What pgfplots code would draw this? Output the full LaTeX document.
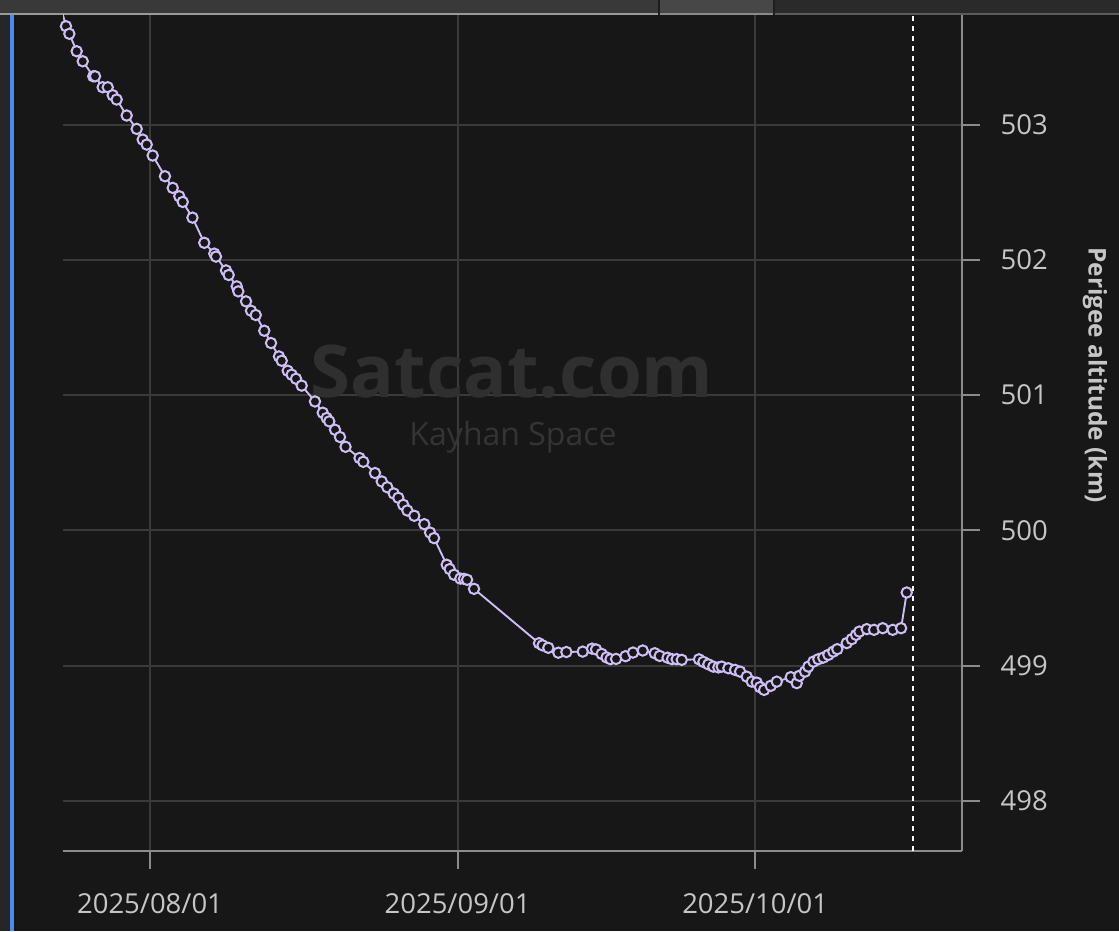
\documentclass[border=0pt]{standalone}
\usepackage{pgfplots}
\pgfplotsset{compat=1.18}
\usepackage{fontspec}
\setmainfont{Open Sans}
\definecolor{bg}{HTML}{171717}
\definecolor{gridc}{HTML}{3A3A3A}
\definecolor{axisc}{HTML}{8C8C8C}
\definecolor{labc}{HTML}{C6C6C6}
\definecolor{lav}{HTML}{CDBFF4}
\definecolor{wm}{HTML}{2F2F2F}
\definecolor{wm2}{HTML}{343434}
\definecolor{barA}{HTML}{393939}
\definecolor{barB}{HTML}{474747}
\definecolor{barC}{HTML}{2A2A2A}
\definecolor{lineA}{HTML}{9A9A9A}
\definecolor{lineB}{HTML}{8A8A8A}
\definecolor{lineC}{HTML}{5A5A5A}
\definecolor{gapc}{HTML}{1E1E1E}
\definecolor{strip}{HTML}{262626}
\definecolor{bluel}{HTML}{4A8AF0}

\pgfplotstableread{
d km
-8.87 503.836
-8.47 503.727
-8.13 503.671
-7.39 503.542
-6.78 503.468
-5.72 503.357
-5.54 503.357
-4.77 503.276
-4.26 503.276
-3.76 503.217
-3.36 503.185
-2.35 503.067
-1.34 502.968
-0.74 502.889
-0.33 502.852
0.27 502.771
1.51 502.618
2.29 502.532
2.95 502.470
3.30 502.428
4.28 502.312
5.47 502.126
6.48 502.046
6.65 502.024
7.66 501.922
7.93 501.888
8.74 501.804
8.90 501.767
9.68 501.693
10.18 501.624
10.66 501.592
11.52 501.476
12.20 501.385
13.00 501.286
13.28 501.254
13.88 501.180
14.28 501.151
14.72 501.121
15.29 501.070
16.63 500.953
17.41 500.870
17.81 500.831
18.07 500.806
18.65 500.744
19.15 500.690
19.71 500.618
21.12 500.535
21.50 500.507
22.68 500.424
23.36 500.362
23.92 500.319
24.57 500.273
25.03 500.241
25.53 500.189
25.94 500.147
26.64 500.108
27.65 500.046
28.23 499.984
28.63 499.943
29.91 499.746
30.21 499.714
30.65 499.672
31.28 499.644
31.65 499.642
31.96 499.635
32.66 499.568
39.21 499.166
39.57 499.150
40.15 499.132
41.16 499.096
41.97 499.101
43.62 499.104
44.56 499.126
44.96 499.120
45.53 499.087
46.02 499.061
46.42 499.048
46.98 499.050
47.93 499.070
48.69 499.097
49.67 499.112
50.88 499.092
51.38 499.072
52.17 499.059
52.62 499.048
53.09 499.048
53.60 499.043
55.34 499.047
55.78 499.028
56.28 499.010
56.78 498.993
57.29 498.987
57.63 498.993
58.30 498.981
58.97 498.969
59.48 498.956
60.15 498.919
60.66 498.882
61.16 498.875
61.49 498.841
61.90 498.821
62.57 498.851
63.18 498.882
64.59 498.915
65.19 498.871
65.45 498.925
66.03 498.956
66.36 498.993
66.87 499.030
67.37 499.048
67.87 499.060
68.38 499.080
68.88 499.104
69.28 499.122
70.23 499.167
70.74 499.196
71.17 499.228
71.50 499.252
72.25 499.270
72.98 499.265
73.86 499.277
74.87 499.265
75.71 499.277
76.28 499.541
}\perigee

\begin{document}
\begin{tikzpicture}
\begin{scope}[x=0.75pt,y=0.75pt]
\fill[bg] (0,0) rectangle (1119,931);
\fill[strip] (0,0) rectangle (10,916);
\fill[bluel] (10,0) rectangle (14,916);
\fill[barA] (0,918) rectangle (658,931);
\fill[barB] (660,918) rectangle (773,931);
\fill[barC] (775,918) rectangle (1119,931);
\fill[gapc] (658,916) rectangle (660,931);
\fill[gapc] (773,916) rectangle (775,931);
\fill[lineA] (0,916) rectangle (658,918);
\fill[lineB] (660,916) rectangle (773,918);
\fill[lineC] (775,916) rectangle (1119,918);
\end{scope}
\begin{axis}[
  at={(47.25pt,60pt)}, anchor=south west,
  width=674.25pt, height=627pt, scale only axis,
  xmin=-8.77, xmax=81.85, ymin=497.63, ymax=503.81,
  axis x line*=bottom, axis y line*=right,
  axis line style={color=axisc, line width=1.5pt},
  xtick={0,31,61}, xticklabels={2025/08/01,2025/09/01,2025/10/01},
  ytick={498,499,500,501,502,503},
  grid=major, major grid style={color=gridc, line width=1.5pt},
  tick align=outside, major tick length=13.5pt,
  tick style={color=axisc, line width=1.5pt},
  /pgf/number format/assume math mode=true,
  ticklabel style={color=labc, font=\fontsize{20.6}{24}\selectfont},
  xticklabel shift=15pt, yticklabel shift=12pt,
  clip mode=individual,
]
\node[wm, font=\fontsize{54.5}{60}\selectfont\bfseries, anchor=base] at (rel axis cs:0.4995,0.542) {Satcat.com};
\node[wm2, font=\fontsize{24}{30}\selectfont, anchor=base] at (rel axis cs:0.5006,0.4856) {Kayhan Space};
\addplot[white, line width=1.5pt, dash pattern=on 3.75pt off 3.75pt] coordinates {(76.95,497.63) (76.95,503.81)};
\addplot[lav, line width=1.4pt, mark=*, mark size=3.9pt, mark options={fill=bg, draw=lav, line width=1.5pt}] table[x=d, y=km] {\perigee};
\node[labc, rotate=-90, font=\fontsize{18.3}{22}\selectfont\bfseries] at (rel axis cs:1.148,0.569) {Perigee altitude (km)};
\end{axis}
\end{tikzpicture}
\end{document}
